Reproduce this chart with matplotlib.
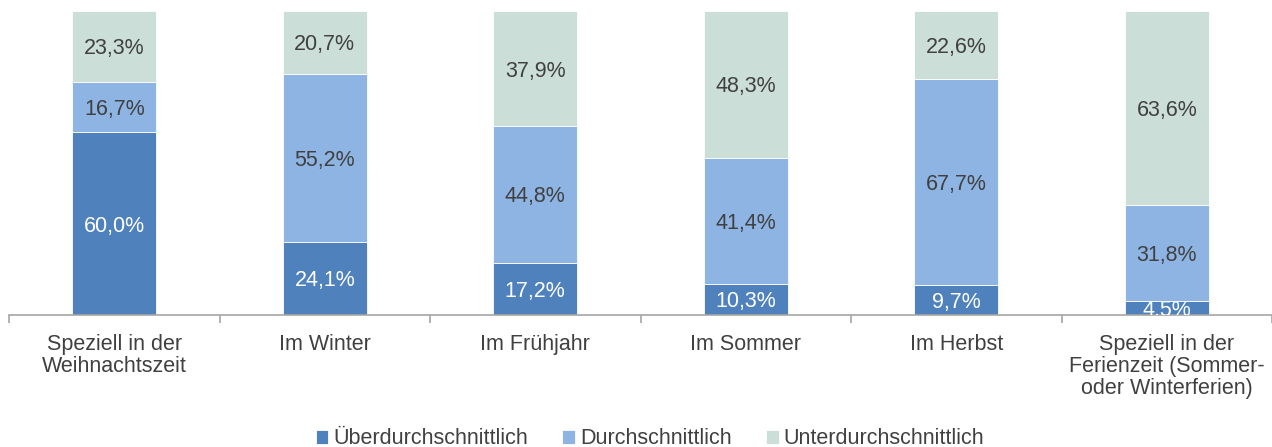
import matplotlib
matplotlib.use("Agg")
import matplotlib.pyplot as plt
import numpy as np

categories = [
    "Speziell in der\nWeihnachtszeit",
    "Im Winter",
    "Im Frühjahr",
    "Im Sommer",
    "Im Herbst",
    "Speziell in der\nFerienzeit (Sommer-\noder Winterferien)",
]
series_names = ["Überdurchschnittlich", "Durchschnittlich", "Unterdurchschnittlich"]
ueber = [60.0, 24.1, 17.2, 10.3, 9.7, 4.5]
durch = [16.7, 55.2, 44.8, 41.4, 67.7, 31.8]
unter = [23.3, 20.7, 37.9, 48.3, 22.6, 63.6]

colors = ["#4F81BD", "#8EB4E3", "#CCDED8"]
label_colors = ["white", "#404040", "#404040"]

plt.rcParams["font.family"] = ["Liberation Sans", "DejaVu Sans"]

fig = plt.figure(figsize=(12.72, 4.47), dpi=100)
ax = fig.add_axes([9 / 1272, 132 / 447, 1263 / 1272, 304 / 447])

x = np.arange(len(categories))
bottom = np.zeros(len(categories))
for vals, name, col, lcol in zip([ueber, durch, unter], series_names, colors, label_colors):
    vals = np.array(vals)
    ax.bar(x, vals, 0.4, bottom=bottom, color=col, label=name,
           edgecolor="white", linewidth=0.6)
    for xi, b, v in zip(x, bottom, vals):
        ax.text(xi, b + v / 2, f"{v:.1f}%".replace(".", ","), ha="center",
                va="center_baseline", color=lcol, fontsize=15.5, clip_on=True)
    bottom += vals

ax.set_xlim(-0.5, 5.5 - 9 / 212)
ax.set_ylim(0, 100 * 0.999)
for s in ["top", "right", "left"]:
    ax.spines[s].set_visible(False)
ax.spines["bottom"].set_color("#A6A6A6")
ax.spines["bottom"].set_linewidth(1.2)
ax.set_yticks([])
ax.set_xticks(np.arange(-0.5, 6, 1), minor=False)
ax.set_xticklabels([])
ax.tick_params(axis="x", which="major", length=6, color="#A6A6A6", width=1.2)
ax.set_xticks(x, minor=True)
ax.set_xticklabels(categories, minor=True, fontsize=15.5, color="#404040", linespacing=1.05)
ax.tick_params(axis="x", which="minor", length=0, pad=14)

fig.legend(loc="center", bbox_to_anchor=(0.511, 8 / 447), ncol=3, frameon=False,
           fontsize=15.5, labelcolor="#404040", handlelength=0.6, handleheight=0.6,
           handletextpad=0.22, columnspacing=1.6, borderaxespad=0)

fig.savefig("out.png", dpi=100)
